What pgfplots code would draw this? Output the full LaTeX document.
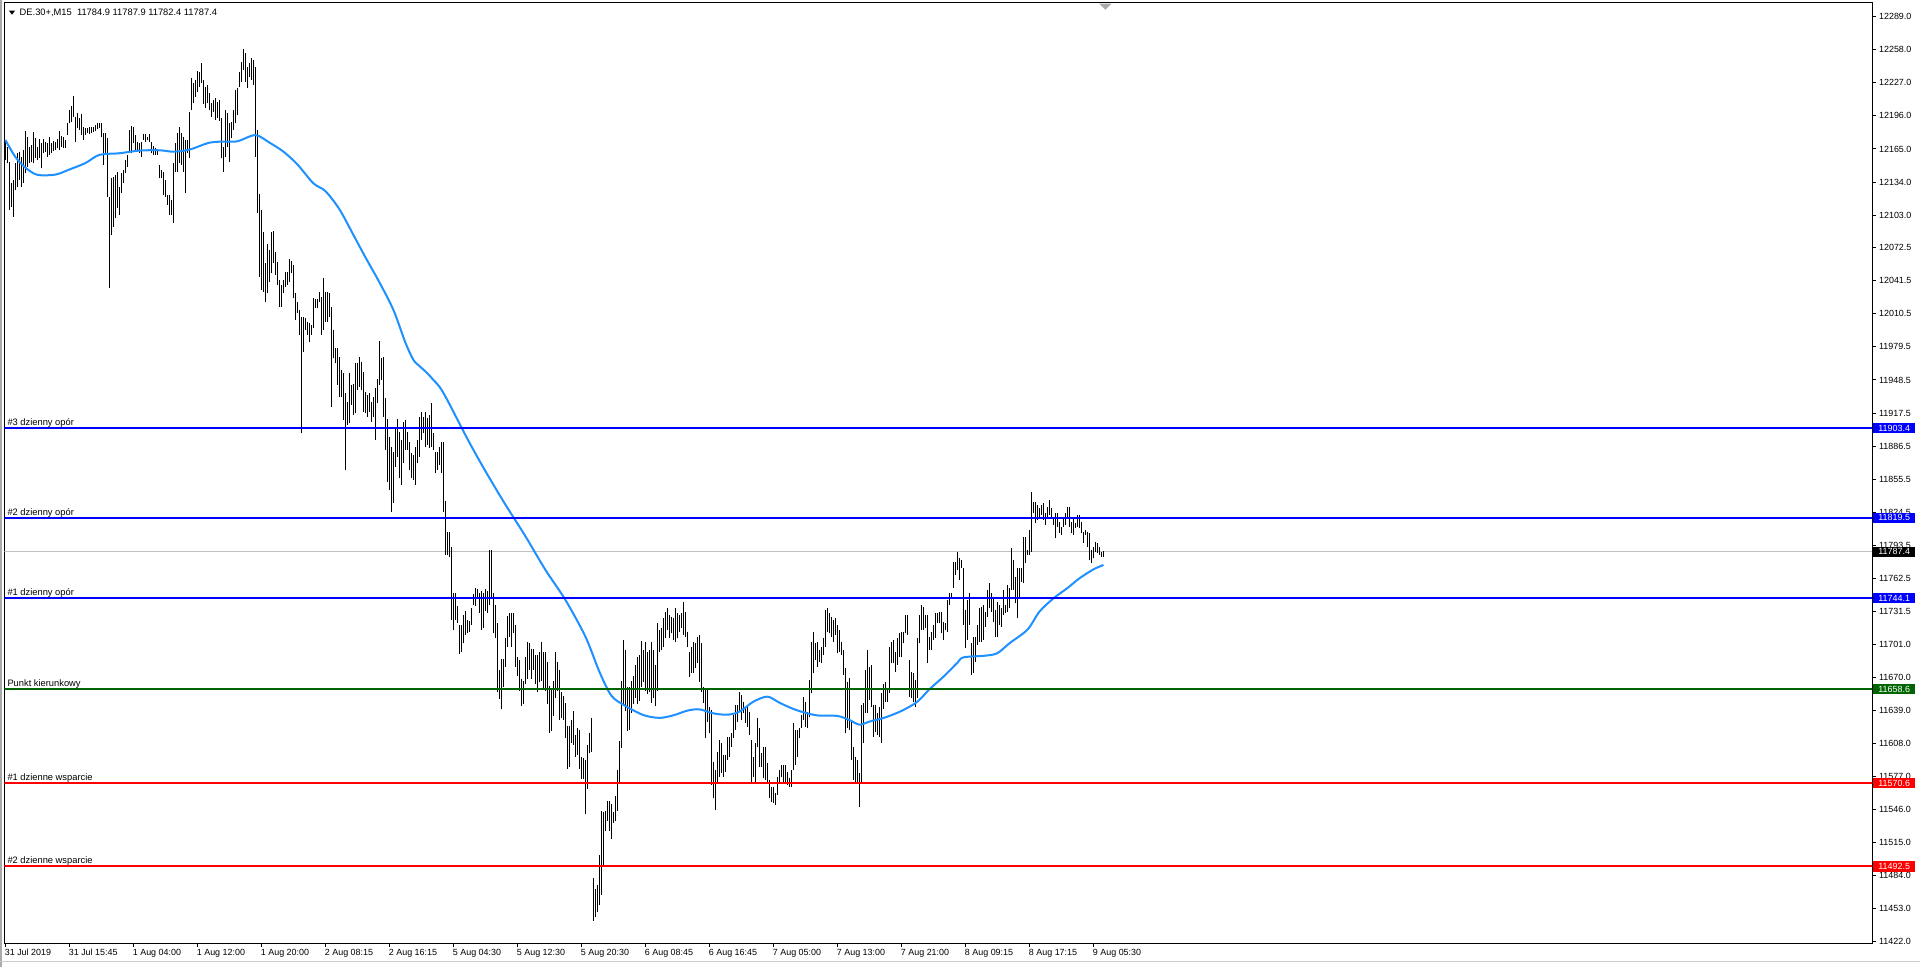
\documentclass[border=0pt]{standalone}
\usepackage{fontspec}
\setmainfont{Liberation Sans}
\usepackage{pgfplots}
\usepackage{pgfplotstable}
\pgfplotsset{compat=1.18}
\definecolor{maBlue}{RGB}{30,144,255}
\definecolor{lvlBlue}{RGB}{0,0,255}
\definecolor{lvlGreen}{RGB}{0,100,0}
\definecolor{lvlRed}{RGB}{255,0,0}
\definecolor{askGray}{RGB}{192,192,192}
\definecolor{winGray}{RGB}{170,170,170}
\newcommand{\tf}{\fontsize{6.7}{8}\selectfont}
\newcommand{\lf}{\fontsize{7}{8.4}\selectfont}

\pgfplotstableread{
i lo hi
0 12154.7 12173.4
1 12151.6 12167.2
2 12107.8 12153.1
3 12110.9 12132.8
4 12101.6 12135.9
5 12126.6 12151.6
6 12129.7 12160.9
7 12135.9 12162.5
8 12129.7 12157.8
9 12132.8 12164.1
10 12142.2 12182.2
11 12148.5 12176.6
12 12151.6 12167.2
13 12153.1 12168.8
14 12151.6 12181.3
15 12156.3 12175.0
16 12154.7 12167.2
17 12156.3 12174.1
18 12146.9 12170.3
19 12160.9 12174.1
20 12162.5 12171.9
21 12157.8 12170.3
22 12159.4 12176.6
23 12160.9 12170.3
24 12163.4 12172.5
25 12164.1 12171.9
26 12165.6 12174.1
27 12164.1 12181.9
28 12167.2 12177.2
29 12165.6 12175.9
30 12165.6 12173.4
31 12178.1 12189.7
32 12189.1 12201.6
33 12190.6 12205.3
34 12195.3 12214.7
35 12171.9 12195.3
36 12184.4 12198.4
37 12182.8 12193.7
38 12178.1 12197.8
39 12173.4 12185.3
40 12178.1 12184.4
41 12179.7 12184.4
42 12179.1 12185.3
43 12180.3 12185.3
44 12181.3 12185.9
45 12182.2 12187.5
46 12183.4 12189.7
47 12184.4 12189.7
48 12175.9 12189.7
49 12150.0 12179.7
50 12159.4 12180.3
51 12120.3 12175.0
52 12034.4 12120.3
53 12084.4 12137.5
54 12092.2 12139.1
55 12100.0 12140.6
56 12109.4 12143.8
57 12103.1 12129.7
58 12123.5 12142.2
59 12132.8 12145.3
60 12142.2 12154.7
61 12148.5 12159.4
62 12162.5 12182.8
63 12160.9 12186.6
64 12170.3 12185.9
65 12164.1 12178.1
66 12162.5 12171.9
67 12160.9 12170.3
68 12157.8 12171.9
69 12173.4 12179.1
70 12171.9 12179.1
71 12173.4 12176.6
72 12171.9 12178.8
73 12160.9 12171.9
74 12159.4 12167.8
75 12159.4 12165.6
76 12159.4 12164.1
77 12137.5 12150.0
78 12137.5 12145.3
79 12121.9 12143.8
80 12120.3 12135.9
81 12112.5 12121.9
82 12103.1 12121.9
83 12103.1 12117.2
84 12095.9 12151.6
85 12143.8 12170.3
86 12143.8 12179.7
87 12151.6 12185.3
88 12150.0 12179.7
89 12143.8 12176.6
90 12123.5 12173.4
91 12160.9 12173.4
92 12156.3 12200.0
93 12201.6 12231.2
94 12207.8 12226.6
95 12214.1 12229.7
96 12218.7 12238.1
97 12223.4 12237.5
98 12226.6 12245.3
99 12207.2 12229.7
100 12203.1 12223.4
101 12207.8 12225.0
102 12201.6 12217.2
103 12195.3 12207.8
104 12200.0 12210.9
105 12192.2 12212.5
106 12193.7 12209.4
107 12191.6 12210.9
108 12156.3 12193.7
109 12143.8 12167.2
110 12157.8 12201.5
111 12167.2 12198.4
112 12153.1 12189.0
113 12175.0 12190.6
114 12182.8 12201.5
115 12189.0 12220.3
116 12196.9 12221.9
117 12223.4 12237.5
118 12228.1 12246.9
119 12239.0 12258.4
120 12228.1 12254.7
121 12222.0 12242.2
122 12232.8 12245.3
123 12229.7 12250.0
124 12225.0 12248.4
125 12157.8 12242.2
126 12104.7 12182.8
127 12045.4 12122.8
128 12032.9 12107.8
129 12031.3 12087.5
130 12021.9 12057.8
131 12029.7 12075.9
132 12040.7 12070.3
133 12048.5 12087.5
134 12057.8 12088.1
135 12046.9 12068.8
136 12037.5 12058.8
137 12017.2 12042.2
138 12017.2 12037.5
139 12029.7 12042.2
140 12036.0 12050.0
141 12037.5 12050.0
142 12040.7 12061.6
143 12048.5 12060.0
144 12025.0 12056.3
145 12004.7 12030.3
146 12011.0 12021.9
147 11990.7 12014.1
148 11898.5 12007.9
149 11975.1 12007.9
150 11995.4 12006.3
151 11990.7 12003.2
152 11984.4 12001.6
153 11990.7 12000.0
154 11996.9 12025.0
155 12015.7 12024.1
156 12015.7 12024.1
157 12021.9 12031.3
158 11990.7 12026.6
159 11995.4 12043.8
160 12003.2 12031.3
161 12003.2 12031.3
162 12007.9 12029.7
163 11923.5 12017.2
164 11968.8 11995.4
165 11964.1 11978.2
166 11943.8 11978.2
167 11932.9 11970.4
168 11932.9 11957.9
169 11911.0 11954.8
170 11864.2 11936.0
171 11906.3 11928.2
172 11907.9 11954.8
173 11925.1 11943.8
174 11915.7 11944.8
175 11917.3 11964.1
176 11939.1 11964.1
177 11942.3 11970.4
178 11939.1 11965.7
179 11918.8 11956.3
180 11917.3 11937.6
181 11914.2 11934.4
182 11918.8 11936.0
183 11909.5 11928.2
184 11914.2 11932.9
185 11892.3 11940.7
186 11926.6 11949.1
187 11943.8 11985.4
188 11948.5 11968.8
189 11914.2 11970.4
190 11882.9 11931.3
191 11853.2 11911.6
192 11845.4 11895.4
193 11825.1 11886.0
194 11832.9 11881.3
195 11867.3 11903.2
196 11876.6 11911.6
197 11856.3 11900.1
198 11850.1 11892.3
199 11870.4 11909.5
200 11882.9 11911.0
201 11882.9 11900.1
202 11864.2 11890.7
203 11856.3 11879.8
204 11854.8 11878.2
205 11850.1 11886.0
206 11870.4 11892.3
207 11876.6 11914.2
208 11892.3 11918.8
209 11898.5 11914.2
210 11886.0 11918.8
211 11887.6 11912.6
212 11884.5 11915.7
213 11886.0 11926.6
214 11882.9 11898.5
215 11861.0 11881.3
216 11864.2 11881.3
217 11868.8 11886.0
218 11861.0 11890.7
219 11825.0 11890.0
220 11784.0 11834.7
221 11784.0 11806.1
222 11782.4 11806.1
223 11723.7 11791.9
224 11714.2 11749.1
225 11723.7 11749.1
226 11720.6 11736.4
227 11692.0 11719.0
228 11693.6 11719.0
229 11701.6 11728.5
230 11709.5 11731.7
231 11711.1 11723.7
232 11712.6 11722.2
233 11719.0 11734.8
234 11738.0 11747.5
235 11736.4 11753.8
236 11742.8 11752.3
237 11730.1 11749.1
238 11714.2 11750.7
239 11715.8 11749.1
240 11731.7 11752.3
241 11730.1 11750.7
242 11738.0 11788.7
243 11742.8 11788.7
244 11711.1 11749.1
245 11706.3 11738.0
246 11655.6 11720.6
247 11649.3 11676.2
248 11639.8 11687.3
249 11660.4 11687.3
250 11679.4 11706.3
251 11698.4 11726.9
252 11707.9 11730.1
253 11698.4 11730.1
254 11711.1 11730.1
255 11679.4 11719.0
256 11671.5 11688.9
257 11657.2 11685.7
258 11642.9 11668.3
259 11644.5 11666.7
260 11663.5 11688.9
261 11668.3 11703.1
262 11676.2 11701.6
263 11668.3 11696.8
264 11676.2 11696.8
265 11663.5 11690.5
266 11655.6 11690.5
267 11665.1 11693.6
268 11666.7 11703.1
269 11658.8 11693.6
270 11657.2 11693.6
271 11644.5 11684.1
272 11617.6 11662.0
273 11619.2 11658.8
274 11633.4 11666.7
275 11650.8 11693.6
276 11657.2 11684.1
277 11630.2 11676.2
278 11631.8 11655.6
279 11630.2 11652.4
280 11612.8 11646.1
281 11584.3 11623.9
282 11585.9 11623.9
283 11608.1 11630.2
284 11606.5 11638.2
285 11595.4 11616.0
286 11597.0 11622.3
287 11584.3 11620.8
288 11574.8 11595.4
289 11574.8 11593.8
290 11541.5 11592.2
291 11565.3 11606.5
292 11598.6 11617.6
293 11600.2 11631.8
294 11441.7 11481.3
295 11444.9 11471.8
296 11449.6 11475.0
297 11456.0 11503.5
298 11465.5 11544.7
299 11492.4 11543.1
300 11525.7 11544.7
301 11535.2 11554.2
302 11525.7 11554.2
303 11517.8 11551.0
304 11533.6 11543.1
305 11535.2 11559.0
306 11544.7 11582.7
307 11570.0 11609.7
308 11603.3 11666.7
309 11642.9 11704.7
310 11638.2 11695.2
311 11619.2 11660.4
312 11620.8 11660.4
313 11636.6 11666.7
314 11644.5 11671.5
315 11650.8 11681.0
316 11644.5 11688.9
317 11647.7 11690.5
318 11660.4 11704.1
319 11665.1 11695.2
320 11657.2 11703.1
321 11654.0 11693.6
322 11655.6 11695.2
323 11646.1 11703.1
324 11650.8 11695.2
325 11642.9 11681.0
326 11657.2 11720.6
327 11693.6 11714.2
328 11695.4 11715.7
329 11698.5 11725.1
330 11706.4 11731.3
331 11714.2 11734.5
332 11706.4 11728.2
333 11711.0 11726.7
334 11704.8 11725.1
335 11703.2 11734.5
336 11706.4 11729.8
337 11712.6 11728.2
338 11715.7 11729.8
339 11709.5 11740.7
340 11707.9 11731.3
341 11698.5 11712.6
342 11670.4 11693.9
343 11673.5 11698.5
344 11673.5 11703.2
345 11678.2 11701.7
346 11682.9 11707.9
347 11665.7 11709.5
348 11656.4 11701.7
349 11645.4 11661.0
350 11612.6 11657.9
351 11628.2 11659.5
352 11617.3 11642.3
353 11568.9 11639.2
354 11556.4 11590.8
355 11545.5 11583.0
356 11570.5 11600.1
357 11576.7 11611.0
358 11579.8 11607.9
359 11576.7 11597.0
360 11581.4 11597.0
361 11592.3 11614.2
362 11595.4 11614.2
363 11604.8 11617.3
364 11612.6 11634.5
365 11620.4 11643.9
366 11628.2 11643.9
367 11637.6 11656.4
368 11629.8 11653.2
369 11636.1 11647.0
370 11626.7 11640.7
371 11623.5 11643.9
372 11615.7 11637.6
373 11572.0 11611.0
374 11576.7 11595.4
375 11572.0 11607.9
376 11604.8 11631.4
377 11586.1 11622.0
378 11586.1 11598.6
379 11575.1 11604.8
380 11573.6 11604.8
381 11572.0 11589.2
382 11556.4 11573.6
383 11553.3 11567.3
384 11551.7 11567.3
385 11550.1 11561.1
386 11559.5 11576.7
387 11570.4 11583.0
388 11576.7 11587.6
389 11572.0 11587.6
390 11570.4 11587.6
391 11568.9 11581.4
392 11567.3 11575.1
393 11567.3 11583.0
394 11583.0 11626.7
395 11587.6 11620.4
396 11595.4 11620.4
397 11612.6 11622.0
398 11622.0 11634.5
399 11629.8 11651.7
400 11623.5 11647.0
401 11622.0 11637.6
402 11632.9 11667.3
403 11654.8 11703.2
404 11673.5 11712.6
405 11686.0 11701.7
406 11679.8 11703.2
407 11684.5 11695.4
408 11682.9 11698.5
409 11690.7 11706.4
410 11698.5 11732.9
411 11712.6 11734.5
412 11711.0 11729.8
413 11707.9 11726.7
414 11703.2 11723.5
415 11709.5 11725.1
416 11692.3 11718.8
417 11693.9 11714.2
418 11690.7 11703.2
419 11672.0 11695.4
420 11617.3 11678.2
421 11622.0 11665.7
422 11620.4 11668.9
423 11592.3 11628.2
424 11573.6 11604.8
425 11572.0 11595.4
426 11570.4 11592.3
427 11548.6 11579.8
428 11572.0 11643.9
429 11607.9 11645.4
430 11636.1 11676.7
431 11636.1 11695.4
432 11648.6 11679.8
433 11642.3 11681.4
434 11614.2 11643.9
435 11618.9 11643.9
436 11615.7 11636.1
437 11614.2 11642.3
438 11608.0 11655.0
439 11640.0 11664.0
440 11647.0 11665.8
441 11647.0 11659.5
442 11654.8 11698.5
443 11682.9 11703.2
444 11682.9 11704.8
445 11675.1 11693.9
446 11681.4 11706.4
447 11689.2 11711.0
448 11689.2 11712.6
449 11701.7 11712.6
450 11711.0 11728.2
451 11709.5 11728.2
452 11651.7 11686.0
453 11650.1 11675.1
454 11647.0 11673.5
455 11642.3 11667.3
456 11650.1 11706.4
457 11701.7 11728.2
458 11714.2 11737.6
459 11714.2 11736.0
460 11715.8 11728.2
461 11682.9 11728.2
462 11695.4 11707.9
463 11695.4 11712.6
464 11704.8 11718.8
465 11706.4 11729.8
466 11720.4 11729.8
467 11720.4 11731.3
468 11711.0 11731.3
469 11704.8 11722.0
470 11714.2 11720.4
471 11712.6 11742.3
472 11737.6 11748.5
473 11743.8 11748.5
474 11753.2 11778.2
475 11765.7 11778.2
476 11770.4 11787.6
477 11761.0 11781.3
478 11772.0 11779.8
479 11718.8 11772.0
480 11697.0 11732.9
481 11704.8 11742.3
482 11718.8 11748.5
483 11672.0 11701.7
484 11673.5 11707.9
485 11684.5 11707.9
486 11700.1 11718.8
487 11703.2 11734.5
488 11703.2 11736.0
489 11704.8 11737.6
490 11717.3 11731.3
491 11726.7 11751.6
492 11734.5 11757.9
493 11731.3 11748.5
494 11722.0 11743.8
495 11707.9 11732.9
496 11707.9 11740.7
497 11718.8 11737.6
498 11717.3 11734.5
499 11728.2 11751.6
500 11729.8 11737.6
501 11731.3 11756.3
502 11734.5 11753.2
503 11751.6 11790.7
504 11751.6 11779.8
505 11739.2 11764.1
506 11725.1 11772.0
507 11745.4 11772.0
508 11759.5 11772.0
509 11757.9 11801.6
510 11776.7 11801.6
511 11784.5 11789.1
512 11784.5 11807.9
513 11787.6 11843.8
514 11823.5 11834.4
515 11814.1 11834.4
516 11817.3 11831.3
517 11818.8 11828.2
518 11821.9 11831.3
519 11817.3 11832.9
520 11812.6 11823.5
521 11820.4 11829.8
522 11821.9 11836.0
523 11818.8 11828.2
524 11812.6 11820.4
525 11800.1 11823.5
526 11811.0 11823.5
527 11804.8 11815.7
528 11803.2 11811.0
529 11811.0 11820.4
530 11812.6 11823.5
531 11818.8 11829.8
532 11811.0 11829.8
533 11804.8 11815.7
534 11803.2 11820.4
535 11809.5 11814.1
536 11811.0 11821.9
537 11809.5 11821.9
538 11804.8 11815.7
539 11795.4 11806.3
540 11803.2 11807.9
541 11792.3 11806.3
542 11779.8 11804.8
543 11776.7 11789.1
544 11781.3 11792.3
545 11787.6 11796.9
546 11786.0 11795.4
547 11784.5 11792.3
548 11782.9 11787.6
549 11782.4 11787.9
}\bars

\pgfplotstableread{
i ma
0 12173.4
5 12157.5
10 12147.5
16 12140.8
25 12141.0
32 12145.8
40 12151.8
47 12159.5
57 12161.0
67 12163.5
77 12163.8
84 12162.5
92 12164.4
102 12170.9
110 12172.0
116 12172.2
125 12178.0
132 12171.0
139 12162.5
146 12150.5
154 12132.8
160 12125.5
167 12108.5
174 12084.4
180 12063.5
187 12040.0
194 12014.1
200 11983.5
204 11967.3
207 11961.6
211 11954.7
214 11948.5
217 11942.2
221 11929.5
231 11893.3
239 11866.3
249 11834.7
260 11802.0
270 11770.5
280 11742.3
290 11707.9
297 11675.0
303 11652.5
310 11643.0
319 11634.4
327 11631.8
334 11634.2
341 11638.6
347 11639.8
354 11636.0
361 11634.8
367 11637.6
374 11647.0
381 11651.7
387 11646.0
394 11640.1
401 11636.0
407 11633.9
416 11633.6
422 11629.8
427 11625.4
432 11628.3
439 11631.7
444 11635.1
449 11639.2
456 11647.0
462 11658.6
469 11670.4
476 11683.5
479 11688.5
490 11690.1
496 11692.5
502 11701.7
511 11714.5
517 11731.4
524 11743.8
531 11753.5
537 11762.6
544 11771.0
549 11775.1
}\ma

\begin{document}
\begin{tikzpicture}
\useasboundingbox (0,0) rectangle (1440pt,725.25pt);
\fill[white] (0,0) rectangle (1440pt,725.25pt);
\begin{axis}[
  at={(3.225pt,17.775pt)}, anchor=south west,
  scale only axis, width=1401pt, height=705.225pt,
  xmin=-0.55, xmax=933.45, ymin=11420.5, ymax=12301.84,
  axis line style={black, line width=0.75pt},
  clip mode=individual,
  xtick={0,32,...,544},
  xticklabels={31 Jul 2019,31 Jul 15:45,1 Aug 04:00,1 Aug 12:00,1 Aug 20:00,2 Aug 08:15,2 Aug 16:15,5 Aug 04:30,5 Aug 12:30,5 Aug 20:30,6 Aug 08:45,6 Aug 16:45,7 Aug 05:00,7 Aug 13:00,7 Aug 21:00,8 Aug 09:15,8 Aug 17:15,9 Aug 05:30},
  ytick={11422,11453,11484,11515,11546,11577,11608,11639,11670,11701,11731.5,11762.5,11793.5,11824.5,11855.5,11886.5,11917.5,11948.5,11979.5,12010.5,12041.5,12072.5,12103,12134,12165,12196,12227,12258,12289},
  yticklabels={11422.0,11453.0,11484.0,11515.0,11546.0,11577.0,11608.0,11639.0,11670.0,11701.0,11731.5,11762.5,11793.5,11824.5,11855.5,11886.5,11917.5,11948.5,11979.5,12010.5,12041.5,12072.5,12103.0,12134.0,12165.0,12196.0,12227.0,12258.0,12289.0},
  xtick pos=left, ytick pos=right, yticklabel pos=right,
  tick align=outside,
  major tick length=2.6pt,
  tick style={black, line width=0.75pt},
  x tick label style={font=\tf, anchor=north west, inner sep=0pt, xshift=-0.6pt, yshift=-1.5pt},
  y tick label style={font=\tf, anchor=west, inner sep=0pt, xshift=2.2pt},
]
% ask price line
\addplot[askGray, line width=0.75pt, forget plot] coordinates {(-0.55,11787.4) (933.45,11787.4)};
% OHLC bars (low-high)
\addplot[draw=none, mark=none, forget plot,
  error bars/.cd, y dir=plus, y explicit, error mark=none,
  error bar style={draw=black, line width=0.75pt, solid}]
  table[x=i, y=lo, y error expr=\thisrow{hi}-\thisrow{lo}] {\bars};
% moving average
\addplot[maBlue, line width=1.5pt, smooth, forget plot] table[x=i, y=ma] {\ma};
% levels
\addplot[lvlBlue, line width=1.5pt, forget plot] coordinates {(-0.55,11903.4) (933.45,11903.4)};
\addplot[lvlBlue, line width=1.5pt, forget plot] coordinates {(-0.55,11819.5) (933.45,11819.5)};
\addplot[lvlBlue, line width=1.5pt, forget plot] coordinates {(-0.55,11744.1) (933.45,11744.1)};
\addplot[lvlGreen, line width=1.5pt, forget plot] coordinates {(-0.55,11658.6) (933.45,11658.6)};
\addplot[lvlRed, line width=1.5pt, forget plot] coordinates {(-0.55,11570.6) (933.45,11570.6)};
\addplot[lvlRed, line width=1.5pt, forget plot] coordinates {(-0.55,11492.5) (933.45,11492.5)};
% level captions
\node[anchor=base west, font=\lf, inner sep=0pt, xshift=2.2pt, yshift=1.9pt] at (axis cs:-0.55,11903.4) {\#3 dzienny opór};
\node[anchor=base west, font=\lf, inner sep=0pt, xshift=2.2pt, yshift=1.9pt] at (axis cs:-0.55,11819.5) {\#2 dzienny opór};
\node[anchor=base west, font=\lf, inner sep=0pt, xshift=2.2pt, yshift=1.9pt] at (axis cs:-0.55,11744.1) {\#1 dzienny opór};
\node[anchor=base west, font=\lf, inner sep=0pt, xshift=2.2pt, yshift=1.9pt] at (axis cs:-0.55,11658.6) {Punkt kierunkowy};
\node[anchor=base west, font=\lf, inner sep=0pt, xshift=2.2pt, yshift=1.9pt] at (axis cs:-0.55,11570.6) {\#1 dzienne wsparcie};
\node[anchor=base west, font=\lf, inner sep=0pt, xshift=2.2pt, yshift=1.9pt] at (axis cs:-0.55,11492.5) {\#2 dzienne wsparcie};
\coordinate (q1) at (axis cs:933.45,11903.4);
\coordinate (q2) at (axis cs:933.45,11819.5);
\coordinate (q3) at (axis cs:933.45,11787.4);
\coordinate (q4) at (axis cs:933.45,11744.1);
\coordinate (q5) at (axis cs:933.45,11658.6);
\coordinate (q6) at (axis cs:933.45,11570.6);
\coordinate (q7) at (axis cs:933.45,11492.5);
\end{axis}
% price tags on the scale
\tikzset{tag/.style={anchor=west, xshift=0.45pt, font=\tf, text=white, minimum width=31.3pt, minimum height=7.6pt, inner sep=0pt}}
\node[tag, fill=lvlBlue] at (q1) {11903.4};
\node[tag, fill=lvlBlue] at (q2) {11819.5};
\node[tag, fill=black] at (q3) {11787.4};
\node[tag, fill=lvlBlue] at (q4) {11744.1};
\node[tag, fill=lvlGreen] at (q5) {11658.6};
\node[tag, fill=lvlRed] at (q6) {11570.6};
\node[tag, fill=lvlRed] at (q7) {11492.5};
% title
\fill[black] (6.75pt,717.2pt) -- (11.25pt,717.2pt) -- (9pt,714.2pt) -- cycle;
\node[anchor=west, font=\lf, inner sep=0pt] at (14.6pt,715.6pt) {DE.30+,M15\ \ 11784.9 11787.9 11782.4 11787.4};
% chart shift marker
\fill[winGray] (824.5pt,722.5pt) -- (833.5pt,722.5pt) -- (829pt,718pt) -- cycle;
% window frame
\draw[winGray, line width=1.2pt] (0.6pt,0) -- (0.6pt,725.25pt);
\draw[winGray!60, line width=0.75pt] (0,4.2pt) -- (1440pt,4.2pt);
\end{tikzpicture}
\end{document}
